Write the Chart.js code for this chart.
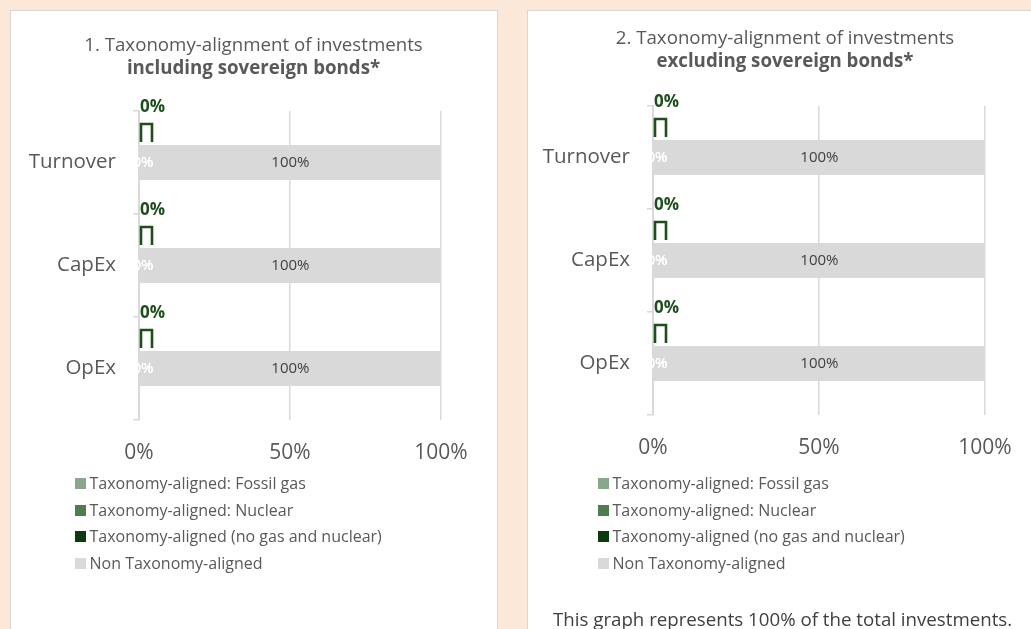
<!DOCTYPE html>
<html>
<head>
<meta charset="utf-8">
<script src="https://cdn.jsdelivr.net/npm/chart.js@4.4.1/dist/chart.umd.min.js"></script>
<style>
  body { margin: 0; width: 1031px; height: 629px; overflow: hidden; position: relative;
         background: #fbe8d8; font-family: 'Open Sans', sans-serif; }
  .panel { position: absolute; background: #fff; border: 1px solid #d6d6d6; box-sizing: border-box; }
  canvas { position: absolute; }
  .legend { position: absolute; font-size: 16px; color: #595959; }
  .legend .item { height: 26.5px; line-height: 26.5px; white-space: nowrap; }
  .legend .box { display: inline-block; width: 11px; height: 11px; margin-right: 3.5px;
                 vertical-align: middle; position: relative; top: -1px; }
  .note { position: absolute; font-size: 18.7px; color: #404040; white-space: nowrap; }
</style>
</head>
<body>
<div class="panel" style="left:10px;top:10px;width:488px;height:640px"></div>
<div class="panel" style="left:527px;top:10px;width:520px;height:640px"></div>
<canvas id="chart1" width="487" height="619" style="left:10px;top:10px"></canvas>
<canvas id="chart2" width="516" height="619" style="left:527px;top:10px"></canvas>
<div class="legend" id="legend1" style="left:75px;top:470px"></div>
<div class="legend" id="legend2" style="left:598px;top:470px"></div>
<div class="note" style="left:553px;top:606px">This graph represents 100% of the total investments.</div>

<script>
// categories and values (percent of investments)
var categories = ['Turnover', 'CapEx', 'OpEx'];
var seriesNames = [
  'Taxonomy-aligned: Fossil gas',
  'Taxonomy-aligned: Nuclear',
  'Taxonomy-aligned (no gas and nuclear)',
  'Non Taxonomy-aligned'
];
var seriesColors = ['#8ba78b', '#4f7d4f', '#0b3b0b', '#d9d9d9'];
var xTicks = [0, 50, 100];

// chart 1: including sovereign bonds
var fossilGasIncl = [0, 0, 0];
var nuclearIncl = [0, 0, 0];
var alignedIncl = [0, 0, 0];
var nonAlignedIncl = [100, 100, 100];

// chart 2: excluding sovereign bonds
var fossilGasExcl = [0, 0, 0];
var nuclearExcl = [0, 0, 0];
var alignedExcl = [0, 0, 0];
var nonAlignedExcl = [100, 100, 100];

Chart.defaults.font.family = "'Open Sans', sans-serif";
Chart.defaults.color = '#595959';

// draws the value labels and the little green marker above each bar
var barMarks = {
  id: 'barMarks',
  afterDatasetsDraw: function(chart, args, opts) {
    var ctx = chart.ctx;
    var metaAligned = chart.getDatasetMeta(2);
    var metaNon = chart.getDatasetMeta(3);
    ctx.save();
    metaNon.data.forEach(function(bar, i) {
      var top = bar.y - bar.height / 2;
      var x0 = metaAligned.data[i].base;
      // white labels of the zero series
      ctx.font = "15px 'Open Sans'";
      ctx.textAlign = 'center';
      ctx.textBaseline = 'middle';
      ctx.fillStyle = '#ffffff';
      for (var d = 0; d < 3; d++) {
        var el = chart.getDatasetMeta(d).data[i];
        ctx.fillText(chart.data.datasets[d].data[i] + '%', (el.x + el.base) / 2 + 4, bar.y);
      }
      // non aligned value label
      ctx.fillStyle = '#404040';
      ctx.fillText(chart.data.datasets[3].data[i] + '%', (bar.x + bar.base) / 2, bar.y);
      // marker for the aligned series
      ctx.strokeStyle = '#1e4d1e';
      ctx.lineWidth = 2.6;
      ctx.beginPath();
      ctx.moveTo(x0 + 2, top - opts.gap);
      ctx.lineTo(x0 + 2, top - opts.gap - opts.h);
      ctx.lineTo(x0 + 2 + opts.w, top - opts.gap - opts.h);
      ctx.lineTo(x0 + 2 + opts.w, top - opts.gap);
      ctx.stroke();
      ctx.fillStyle = '#1e4d1e';
      ctx.font = "bold 17px 'Open Sans'";
      ctx.textAlign = 'left';
      ctx.fillText(chart.data.datasets[2].data[i] + '%', x0 + 1, top - opts.labelUp);
    });
    ctx.restore();
  }
};

function makeChart(canvasId, legendId, title, subtitle, values, geo) {
  var datasets = values.map(function(v, k) {
    return { label: seriesNames[k], data: v, backgroundColor: seriesColors[k], borderWidth: 0 };
  });
  var chart = new Chart(document.getElementById(canvasId), {
    type: 'bar',
    data: { labels: categories, datasets: datasets },
    options: {
      responsive: false,
      animation: false,
      indexAxis: 'y',
      layout: { padding: { bottom: geo.padBottom } },
      datasets: { bar: { categoryPercentage: 0.34, barPercentage: 1 } },
      scales: {
        x: {
          stacked: true, min: 0, max: 100,
          afterBuildTicks: function(s) { s.ticks = xTicks.map(function(v) { return { value: v }; }); },
          afterFit: function(s) { s.height = 40; s.paddingRight = geo.padRight; },
          ticks: { callback: function(v) { return v + '%'; }, color: '#595959', font: { size: 21 }, padding: 20 },
          grid: { color: '#d9d9d9', lineWidth: 1.5, drawTicks: false },
          border: { display: false }
        },
        y: {
          stacked: true,
          afterFit: function(s) { s.width = geo.axisWidth; },
          ticks: { color: '#595959', font: { size: 20.5 }, padding: geo.yPad },
          grid: { drawOnChartArea: false, tickLength: 6, color: '#d9d9d9', lineWidth: 1.5 },
          border: { color: '#d9d9d9', width: 2 }
        }
      },
      plugins: {
        legend: { display: false },
        tooltip: { enabled: false },
        title: { display: true, text: title, color: '#595959', font: { size: 18.7, weight: 'normal' },
                 padding: { top: geo.titleTop, bottom: 0 } },
        subtitle: { display: true, text: subtitle, color: '#595959', font: { size: 18.7, weight: 'bold' },
                    padding: { top: 0, bottom: geo.subBottom } },
        barMarks: { gap: 3, h: 18, w: 11, labelUp: 38 }
      }
    },
    plugins: [barMarks]
  });

  // legend as a list, one row per series
  var box = document.getElementById(legendId);
  chart.data.datasets.forEach(function(ds) {
    var row = document.createElement('div');
    row.className = 'item';
    var sw = document.createElement('span');
    sw.className = 'box';
    sw.style.background = ds.backgroundColor;
    row.appendChild(sw);
    row.appendChild(document.createTextNode(ds.label));
    box.appendChild(row);
  });
  return chart;
}

makeChart('chart1', 'legend1',
  '1. Taxonomy-alignment of investments', 'including sovereign bonds*',
  [fossilGasIncl, nuclearIncl, alignedIncl, nonAlignedIncl],
  { axisWidth: 129, padRight: 56, padBottom: 169, titleTop: 24.8, subBottom: 31.3, yPad: 17 });

makeChart('chart2', 'legend2',
  '2. Taxonomy-alignment of investments', 'excluding sovereign bonds*',
  [fossilGasExcl, nuclearExcl, alignedExcl, nonAlignedExcl],
  { axisWidth: 126, padRight: 58, padBottom: 174, titleTop: 17.8, subBottom: 33.3, yPad: 17 });
</script>
</body>
</html>
